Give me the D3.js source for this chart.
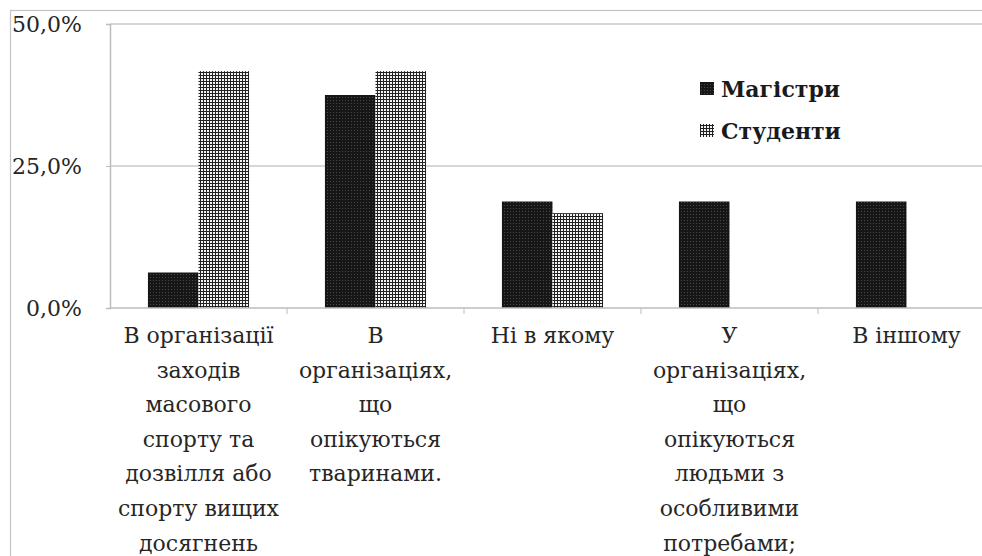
<!DOCTYPE html>
<html lang="uk">
<head>
<meta charset="UTF-8">
<title>Магістри / Студенти</title>
<script src="https://d3js.org/d3.v7.min.js"></script>
<style>
  body { margin: 0; background: #fff; }
</style>
</head>
<body>
<script>
// дані
var categories = ["c1", "c2", "c3", "c4", "c5"];
var categoryLines = [
  ["В організації", "заходів", "масового", "спорту та", "дозвілля або", "спорту вищих", "досягнень"],
  ["В", "організаціях,", "що", "опікуються", "тваринами."],
  ["Ні в якому"],
  ["У", "організаціях,", "що", "опікуються", "людьми з", "особливими", "потребами;"],
  ["В іншому"]
];
var seriesNames = ["Магістри", "Студенти"];
var magistry = [0.0625, 0.375, 0.1875, 0.1875, 0.1875];
var studenty = [0.417, 0.417, 0.167, 0, 0];
var yTicks = [0, 0.25, 0.5];

var FONT = "DejaVu Serif, Liberation Serif, serif";

var width = 982, height = 556;
var svg = d3.select("body").append("svg")
    .attr("width", width)
    .attr("height", height)
    .style("font-family", FONT);

// візерунки заливки
var defs = svg.append("defs");
var pDark = defs.append("pattern").attr("id", "pDark")
    .attr("width", 3).attr("height", 3).attr("patternUnits", "userSpaceOnUse");
pDark.append("rect").attr("width", 3).attr("height", 3).attr("fill", "#161616");
pDark.append("rect").attr("x", 1).attr("y", 1).attr("width", 1).attr("height", 1).attr("fill", "#4a4a4a");

var pGrid = defs.append("pattern").attr("id", "pGrid")
    .attr("width", 3).attr("height", 3).attr("patternUnits", "userSpaceOnUse");
pGrid.append("rect").attr("width", 3).attr("height", 3).attr("fill", "#f4f4f4");
pGrid.append("rect").attr("width", 3).attr("height", 1).attr("fill", "#222");
pGrid.append("rect").attr("width", 1).attr("height", 3).attr("fill", "#222");

var fills = ["url(#pDark)", "url(#pGrid)"];

// рамка діаграми
svg.append("rect")
    .attr("x", 10.5).attr("y", 10.5)
    .attr("width", 1000).attr("height", 600)
    .attr("fill", "none").attr("stroke", "#c4c4c4").attr("stroke-width", 1.2);

// шкали
var x0 = d3.scaleBand().domain(categories).range([110, 995]);
var x1 = d3.scaleBand().domain(seriesNames).range([0, x0.bandwidth()])
    .paddingInner(0).paddingOuter(0.75);
var y = d3.scaleLinear().domain([0, 0.5]).range([308, 24]);

var loc = d3.formatLocale({ decimal: ",", thousands: " ", grouping: [3], currency: ["", ""] });
var fmt = loc.format(".1%");

// сітка
svg.append("g").selectAll("line")
    .data(yTicks.filter(function (d) { return d > 0; }))
    .enter().append("line")
    .attr("x1", 110).attr("x2", width)
    .attr("y1", function (d) { return y(d); })
    .attr("y2", function (d) { return y(d); })
    .attr("stroke", "#c8c8c8").attr("stroke-width", 1.5);

// вісь Y
var yAxis = svg.append("g")
    .attr("transform", "translate(110,0)")
    .call(d3.axisLeft(y).tickValues(yTicks).tickFormat(fmt).tickSize(4).tickPadding(24));
yAxis.attr("font-family", null).attr("font-size", null);
yAxis.select(".domain").attr("stroke", "#bdbdbd").attr("stroke-width", 1.5);
yAxis.selectAll(".tick line").attr("stroke", "#bdbdbd");
yAxis.selectAll("text")
    .style("font-family", FONT)
    .style("font-size", "22px")
    .attr("fill", "#262626");

// стовпчики
var data = categories.map(function (c, i) {
  return { cat: c, vals: [magistry[i], studenty[i]] };
});
var groups = svg.append("g").selectAll("g")
    .data(data).enter().append("g")
    .attr("transform", function (d) { return "translate(" + x0(d.cat) + ",0)"; });
groups.selectAll("rect")
    .data(function (d) { return d.vals.map(function (v, j) { return { s: seriesNames[j], v: v, j: j }; }); })
    .enter().append("rect")
    .filter(function (d) { return d.v > 0; })
    .attr("x", function (d) { return x1(d.s); })
    .attr("width", x1.bandwidth())
    .attr("y", function (d) { return y(d.v); })
    .attr("height", function (d) { return y(0) - y(d.v); })
    .attr("fill", function (d) { return fills[d.j]; });

// вісь X
var xAxis = svg.append("g").attr("transform", "translate(0," + y(0) + ")");
xAxis.append("line")
    .attr("x1", 110).attr("x2", width)
    .attr("stroke", "#bdbdbd").attr("stroke-width", 1.5);
xAxis.selectAll("line.tk")
    .data(categories.slice(1))
    .enter().append("line").attr("class", "tk")
    .attr("x1", function (d) { return x0(d); })
    .attr("x2", function (d) { return x0(d); })
    .attr("y1", 0).attr("y2", 6)
    .attr("stroke", "#bdbdbd");

// підписи категорій
var labels = svg.append("g").selectAll("text")
    .data(categories).enter().append("text")
    .attr("text-anchor", "middle")
    .style("font-family", FONT)
    .style("font-size", "22px")
    .attr("fill", "#262626");
labels.each(function (d, i) {
  var t = d3.select(this);
  var cx = x0(d) + x0.bandwidth() / 2;
  categoryLines[i].forEach(function (ln, k) {
    t.append("tspan").attr("x", cx).attr("y", 343 + k * 34.6).text(ln);
  });
});

// легенда
var legend = svg.append("g").selectAll("g")
    .data(seriesNames).enter().append("g")
    .attr("transform", function (d, i) { return "translate(700," + (89 + i * 42) + ")"; });
legend.append("rect")
    .attr("x", 0).attr("y", -7).attr("width", 14).attr("height", 13)
    .attr("fill", function (d, i) { return fills[i]; });
legend.append("text")
    .attr("x", 21).attr("y", 8)
    .style("font-family", FONT)
    .style("font-size", "22px").style("font-weight", "bold")
    .attr("fill", "#1a1a1a")
    .text(function (d) { return d; });
</script>
</body>
</html>
